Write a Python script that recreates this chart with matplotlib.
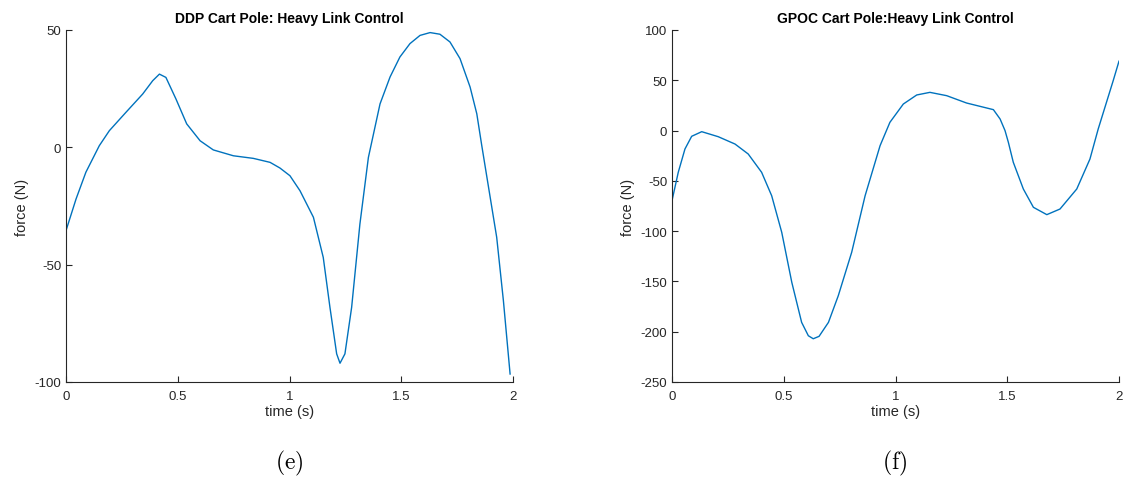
import matplotlib
matplotlib.use("Agg")
import matplotlib.pyplot as plt

plt.rcParams['font.family'] = ['Liberation Sans', 'DejaVu Sans']
plt.rcParams['mathtext.fontset'] = 'cm'

ddp_t = [0, 0.045, 0.089, 0.149, 0.194, 0.268, 0.343, 0.388, 0.418, 0.447, 0.492,
         0.54, 0.6, 0.659, 0.749, 0.838, 0.913, 0.957, 1.002, 1.047, 1.107, 1.151,
         1.181, 1.211, 1.226, 1.248, 1.278, 1.315, 1.353, 1.405, 1.45, 1.494,
         1.539, 1.584, 1.629, 1.673, 1.718, 1.763, 1.808, 1.838, 1.86, 1.882,
         1.927, 1.957, 1.987]
ddp_f = [-35.5, -22, -10.6, 0.7, 7.1, 14.9, 22.7, 28.4, 31.2, 29.8, 20.6,
         10, 2.8, -1.1, -3.6, -4.7, -6.4, -8.8, -12.1, -18.5, -29.8, -46.9,
         -68.2, -88, -92, -88, -68.2, -32.7, -4.3, 18.5, 30, 38.5,
         44.2, 47.7, 48.9, 48.2, 44.9, 37.8, 25.7, 14.3, 0.9, -12,
         -38.3, -65.3, -96.6]

gpoc_t = [0, 0.028, 0.058, 0.088, 0.133, 0.207, 0.282, 0.341, 0.401, 0.446,
          0.491, 0.536, 0.58, 0.61, 0.632, 0.658, 0.7, 0.744, 0.804, 0.864,
          0.931, 0.975, 1.035, 1.095, 1.154, 1.229, 1.318, 1.378, 1.438, 1.468,
          1.49, 1.505, 1.527, 1.572, 1.617, 1.677, 1.736, 1.811, 1.87, 1.907,
          1.974, 2.0]
gpoc_f = [-69.7, -41.5, -18.3, -5.7, -1.1, -6.1, -13.4, -23.3, -41.5, -64.8,
          -101.2, -150.9, -190.7, -204, -207, -204.6, -190.7, -164.2, -121, -64.8,
          -15, 8.2, 26.4, 35.4, 38, 34.7, 27.4, 24.1, 20.8, 11.5,
          0, -11.7, -31.5, -58.1, -76.3, -83.6, -78, -58.1, -28.3, 1.6,
          49.6, 69]

titles = ['DDP Cart Pole: Heavy Link Control', 'GPOC Cart Pole:Heavy Link Control']
captions = ['(e)', '(f)']
xticks = [0, 0.5, 1, 1.5, 2]
xticklabels = ['0', '0.5', '1', '1.5', '2']
ddp_yticks = [-100, -50, 0, 50]
gpoc_yticks = [-250, -200, -150, -100, -50, 0, 50, 100]

fig = plt.figure(figsize=(11.27, 4.81), dpi=100)
ax1 = fig.add_axes([66/1127, 1-383/481, (513-66)/1127, (383-31)/481])
ax2 = fig.add_axes([672/1127, 1-383/481, (1119-672)/1127, (383-31)/481])

blue = '#0072BD'
dark = '#262626'
for ax, t, f, yt, title in [(ax1, ddp_t, ddp_f, ddp_yticks, titles[0]),
                            (ax2, gpoc_t, gpoc_f, gpoc_yticks, titles[1])]:
    ax.plot(t, f, color=blue, lw=1.0, solid_joinstyle='round')
    ax.set_xlim(0, 2)
    ax.set_ylim(yt[0], yt[-1])
    ax.set_xticks(xticks)
    ax.set_xticklabels(xticklabels)
    ax.set_yticks(yt)
    ax.set_yticklabels([str(v) for v in yt])
    for s in ['top', 'right']:
        ax.spines[s].set_visible(False)
    for s in ['left', 'bottom']:
        ax.spines[s].set_color(dark)
        ax.spines[s].set_linewidth(0.8)
    ax.tick_params(direction='in', length=4, width=0.8, colors=dark,
                   labelsize=9.5, labelcolor=dark)
    ax.tick_params(axis='x', pad=6)
    ax.set_xlabel('time (s)', fontsize=10.5, color=dark, labelpad=1)
    ax.set_ylabel('force (N)', fontsize=10.5, color=dark, labelpad=4)
    ax.set_title(title, fontsize=10, fontweight='bold', color='black', pad=6)

for x, cap in [(289, captions[0]), (895, captions[1])]:
    fig.text(x/1127, 1-463/481, r'$\mathrm{' + cap + '}$', fontsize=17,
             ha='center', va='center')

fig.savefig('out.png', dpi=100, facecolor='white')
